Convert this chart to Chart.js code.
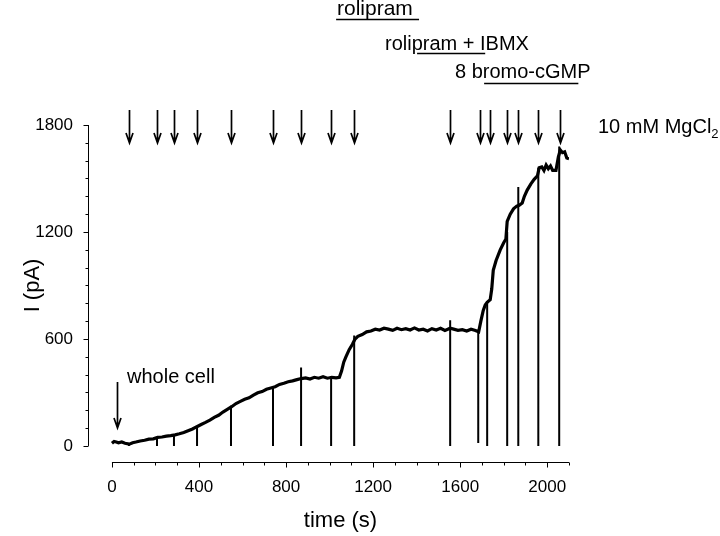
<!DOCTYPE html>
<html>
<head>
<meta charset="utf-8">
<script src="https://cdn.jsdelivr.net/npm/chart.js@4"></script>
<style>
  html, body { margin: 0; padding: 0; background: #fff; }
  #wrap { width: 720px; height: 536px; }
</style>
</head>
<body>
<div id="wrap"><canvas id="myChart" width="720" height="536"></canvas></div>
<script>
// whole-cell current trace
const timeS = [0, 10, 20, 30, 45, 60, 80, 95, 110, 130, 150, 170, 190, 210, 230, 250, 270, 290, 310, 330,
  350, 370, 390, 410, 430, 450, 470, 490, 510, 530, 550, 570, 590, 610, 630, 650, 670, 690, 710, 730,
  750, 770, 790, 810, 830, 850, 870, 890, 910, 930, 950, 970, 990, 1010, 1030, 1045, 1055, 1065, 1075, 1090,
  1105, 1117, 1130, 1150, 1170, 1190, 1210, 1230, 1250, 1270, 1290, 1310, 1330, 1350, 1370, 1390, 1410, 1430, 1450, 1470,
  1490, 1510, 1530, 1554, 1570, 1590, 1610, 1630, 1650, 1670, 1685, 1695, 1706, 1715, 1724, 1738, 1745, 1752, 1765, 1784,
  1800, 1810, 1816, 1830, 1845, 1860, 1871, 1885, 1895, 1908, 1925, 1940, 1955, 1963, 1975, 1985, 1995, 2005, 2015, 2025,
  2040, 2051, 2060, 2070, 2080, 2090, 2100];
const currentPA = [15, 25, 22, 18, 22, 15, 10, 18, 22, 28, 32, 38, 40, 48, 50, 55, 58, 62, 68, 75,
  85, 95, 108, 120, 132, 145, 160, 172, 190, 205, 220, 238, 250, 262, 270, 285, 298, 305, 318, 325,
  332, 345, 352, 360, 365, 372, 378, 382, 375, 385, 380, 388, 380, 385, 382, 385, 420, 470, 500, 540,
  570, 600, 615, 625, 640, 645, 655, 650, 660, 655, 648, 660, 652, 658, 650, 662, 650, 655, 645, 658,
  650, 660, 648, 660, 655, 648, 652, 645, 655, 648, 640, 700, 760, 790, 805, 820, 880, 985, 1040, 1100,
  1140, 1160, 1260, 1300, 1330, 1345, 1350, 1362, 1400, 1435, 1470, 1495, 1515, 1560, 1565, 1545, 1575, 1555, 1570, 1545,
  1545, 1620, 1660, 1645, 1650, 1615, 1610];

// step artifacts: current drops to baseline
const stepTimes   = [78, 207, 285, 391, 547, 740, 869, 1007, 1113, 1554, 1683, 1724, 1816, 1867, 1959, 2055];
const stepTops    = [12, 48, 60, 108, 225, 335, 440, 390, 620, 705, 645, 805, 1200, 1452, 1560, 1680];
const stepBottoms = [0, 0, 0, 0, 0, 0, 0, 0, 0, 0, 17, 0, 0, 0, 0, 0];

// 10 mM MgCl2 application arrows
const arrowTimes = [78, 207, 285, 391, 547, 740, 869, 1007, 1113, 1554, 1692, 1738, 1816, 1867, 1959, 2060];
const wholeCellTime = 23;

// drug application periods
const drugNames = ['rolipram', 'rolipram + IBMX', '8 bromo-cGMP'];
const drugStart = [1030, 1402, 1710];
const drugEnd   = [1411, 1715, 2143];

const xTicks = [0, 400, 800, 1200, 1600, 2000];
const yTicks = [0, 600, 1200, 1800];

const FONT = "'Liberation Sans', Arial, sans-serif";

const traceData = timeS.map((t, i) => ({x: t, y: currentPA[i]}));
const stepData = [];
stepTimes.forEach((t, i) => {
  stepData.push({x: t, y: stepTops[i]}, {x: t, y: stepBottoms[i]}, {x: t, y: null});
});

const decor = {
  id: 'decor',
  afterDraw(chart) {
    const {ctx, chartArea, scales: {x, y}} = chart;
    ctx.save();
    ctx.strokeStyle = '#000';
    ctx.fillStyle = '#000';
    ctx.lineWidth = 1;

    // x axis with minor ticks
    const ay = chartArea.bottom + 0.5;
    ctx.beginPath();
    ctx.moveTo(x.getPixelForValue(0), ay);
    ctx.lineTo(x.getPixelForValue(2100), ay);
    for (let v = 0; v <= 2100; v += 100) {
      const px = Math.round(x.getPixelForValue(v)) + 0.5;
      ctx.moveTo(px, ay);
      ctx.lineTo(px, ay + (v % 400 === 0 ? 5 : 3));
    }
    // y axis with minor ticks
    const ax = chartArea.left + 0.5;
    ctx.moveTo(ax, y.getPixelForValue(0));
    ctx.lineTo(ax, y.getPixelForValue(1800));
    for (let v = 0; v <= 1800; v += 100) {
      const py = Math.round(y.getPixelForValue(v)) + 0.5;
      ctx.moveTo(ax, py);
      ctx.lineTo(ax - (v % 600 === 0 ? 5 : 3), py);
    }
    ctx.stroke();

    // axis titles
    ctx.font = '22px ' + FONT;
    ctx.textAlign = 'center';
    ctx.textBaseline = 'middle';
    ctx.fillText('time (s)', (x.getPixelForValue(0) + x.getPixelForValue(2100)) / 2, 521);
    ctx.save();
    ctx.translate(33, (y.getPixelForValue(0) + y.getPixelForValue(1800)) / 2);
    ctx.rotate(-Math.PI / 2);
    ctx.fillText('I (pA)', 0, 0);
    ctx.restore();

    // arrows
    const arrow = (px, y0, y1) => {
      ctx.beginPath();
      ctx.moveTo(px, y0);
      ctx.lineTo(px, y1);
      ctx.moveTo(px - 3.5, y1 - 10);
      ctx.lineTo(px, y1);
      ctx.lineTo(px + 3.5, y1 - 10);
      ctx.stroke();
    };
    ctx.lineWidth = 1.7;
    arrowTimes.forEach(t => arrow(Math.round(x.getPixelForValue(t)) + 0.5, 110, 143));
    arrow(Math.round(x.getPixelForValue(wholeCellTime)) + 0.5, 382, 428);

    // labels
    ctx.textAlign = 'left';
    ctx.textBaseline = 'alphabetic';
    ctx.font = '20px ' + FONT;
    ctx.fillText('whole cell', 127, 383);
    ctx.fillText('10 mM MgCl', 598, 133);
    const w = ctx.measureText('10 mM MgCl').width;
    ctx.font = '13px ' + FONT;
    ctx.fillText('2', 598 + w, 138);

    // drug bars
    const labelX = [337, 385, 455];
    const labelY = [15, 50, 78];
    const labelSize = [21, 20, 20];
    const barY = [19.5, 53.5, 83.5];
    ctx.lineWidth = 1.5;
    drugNames.forEach((name, i) => {
      ctx.font = labelSize[i] + 'px ' + FONT;
      ctx.fillText(name, labelX[i], labelY[i]);
      ctx.beginPath();
      ctx.moveTo(x.getPixelForValue(drugStart[i]), barY[i]);
      ctx.lineTo(x.getPixelForValue(drugEnd[i]), barY[i]);
      ctx.stroke();
    });
    ctx.restore();
  }
};

const ctx = document.getElementById('myChart').getContext('2d');
const myChart = new Chart(ctx, {
  type: 'line',
  data: {
    datasets: [{
      data: traceData,
      borderColor: '#000',
      borderWidth: 3.2,
      pointRadius: 0,
      tension: 0
    }, {
      data: stepData,
      borderColor: '#000',
      borderWidth: 2,
      pointRadius: 0,
      spanGaps: false
    }]
  },
  options: {
    responsive: false,
    devicePixelRatio: 1,
    animation: false,
    layout: { padding: { top: 125, right: 151, left: 0, bottom: 0 } },
    plugins: { legend: { display: false }, tooltip: { enabled: false } },
    scales: {
      x: {
        type: 'linear',
        min: -110,
        max: 2100,
        grid: { display: false, drawTicks: false },
        border: { display: false },
        afterBuildTicks: s => { s.ticks = xTicks.map(v => ({value: v})); },
        afterFit: s => { s.height = 74; },
        ticks: {
          autoSkip: false,
          maxRotation: 0,
          padding: 15,
          color: '#000',
          font: { family: FONT, size: 17 },
          callback: v => String(v)
        }
      },
      y: {
        min: -90,
        max: 1800,
        grid: { display: false, drawTicks: false },
        border: { display: false },
        afterBuildTicks: s => { s.ticks = yTicks.map(v => ({value: v})); },
        afterFit: s => { s.width = 88; },
        ticks: {
          autoSkip: false,
          padding: 15,
          color: '#000',
          font: { family: FONT, size: 17 },
          callback: v => String(v)
        }
      }
    }
  },
  plugins: [decor]
});
</script>
</body>
</html>
